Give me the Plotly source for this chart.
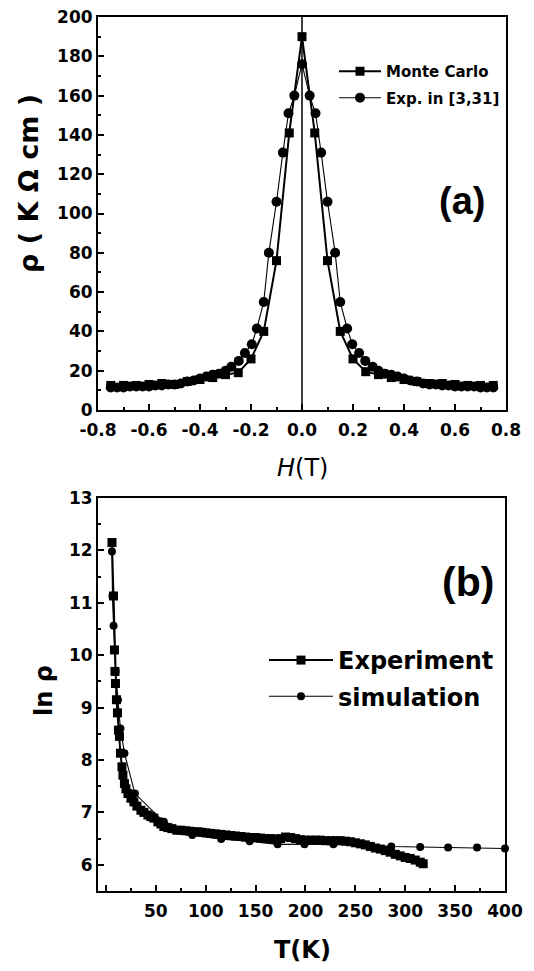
import plotly.graph_objects as go

# ---------------- Panel (a) data ----------------
mc_H = [-0.75, -0.70, -0.65, -0.60, -0.55, -0.50, -0.45, -0.40, -0.35, -0.30,
        -0.25, -0.20, -0.15, -0.10, -0.05, 0.0, 0.05, 0.10, 0.15, 0.20,
        0.25, 0.30, 0.35, 0.40, 0.45, 0.50, 0.55, 0.60, 0.65, 0.70, 0.75]
mc_rho = [12.5, 12.5, 12.5, 13, 13.5, 13, 14.5, 15.5, 16.5, 18,
          19, 26, 40, 76, 141, 190, 141, 76, 40, 26,
          19.5, 18, 16.5, 15.5, 14.5, 13.5, 13.5, 13, 12.5, 12.5, 12.5]

exp_H = [-0.75, -0.725, -0.70, -0.675, -0.65, -0.625, -0.60, -0.575, -0.55, -0.525,
         -0.50, -0.475, -0.45, -0.425, -0.40, -0.375, -0.35, -0.325, -0.30, -0.277,
         -0.248, -0.224, -0.197, -0.177, -0.15, -0.13, -0.10, -0.075, -0.053, -0.03,
         0.0,
         0.03, 0.053, 0.075, 0.10, 0.13, 0.15, 0.177, 0.197, 0.224, 0.248,
         0.277, 0.30, 0.325, 0.35, 0.375, 0.40, 0.425, 0.45, 0.475, 0.50,
         0.525, 0.55, 0.575, 0.60, 0.625, 0.65, 0.675, 0.70, 0.725, 0.75]
exp_rho = [11.5, 11.5, 11.5, 12, 12, 12, 12, 12.5, 12.5, 13,
           13, 13.5, 14.5, 15, 16, 17, 18, 18.5, 20, 22,
           25, 29, 33.5, 41.5, 55, 80, 106, 131, 151, 160,
           176,
           160, 151, 131, 106, 80, 55, 41.5, 33.5, 29, 25,
           22, 20, 18.5, 18, 17, 16, 15, 14.5, 13.5, 13,
           13, 12.5, 12.5, 12, 12, 12, 12, 11.5, 11.5, 11.5]

a_xticks = [-0.8, -0.6, -0.4, -0.2, 0.0, 0.2, 0.4, 0.6, 0.8]
a_xlabels = ["-0.8", "-0.6", "-0.4", "-0.2", "0.0", "0.2", "0.4", "0.6", "0.8"]
a_yticks = [0, 20, 40, 60, 80, 100, 120, 140, 160, 180, 200]

# ---------------- Panel (b) data ----------------
T_exp = [6, 7.5, 8.5, 9, 9.5, 10.5, 11.5, 12.5, 13.5, 14.5,
         16, 17, 18.5, 20, 22, 25, 28, 31, 35, 38,
         42, 45, 48, 52, 55, 58, 62, 66, 71, 75,
         80, 84, 88, 92, 96,
         100, 105, 110, 115, 120, 125, 130, 135, 140, 145,
         150, 155, 160, 165, 170, 175, 180, 185, 190, 195,
         200, 205, 210, 215, 220, 225, 230, 235, 240, 245,
         250, 255, 260, 265, 270, 275, 280, 285, 290, 295,
         300, 305, 310, 315, 318]
ln_exp = [12.15, 11.13, 10.10, 9.69, 9.46, 9.15, 8.90, 8.57, 8.45, 8.13,
          7.87, 7.71, 7.55, 7.45, 7.36, 7.27, 7.20, 7.12, 7.04, 7.00,
          6.95, 6.92, 6.89, 6.82, 6.78, 6.73, 6.71, 6.69, 6.66, 6.66,
          6.65, 6.64, 6.63, 6.63, 6.62,
          6.61, 6.60, 6.59, 6.58, 6.57, 6.56, 6.55, 6.54, 6.53, 6.52,
          6.52, 6.51, 6.50, 6.50, 6.49, 6.50, 6.53, 6.52, 6.50, 6.48,
          6.47, 6.47, 6.47, 6.47, 6.46, 6.46, 6.46, 6.46, 6.45, 6.44,
          6.42, 6.40, 6.38, 6.35, 6.32, 6.30, 6.27, 6.24, 6.20, 6.17,
          6.14, 6.12, 6.09, 6.05, 6.02]

T_sim = [6, 6.5, 7.6, 8.6, 9.6, 12, 14.5, 18.5, 29, 58, 86.5, 115.5, 144, 172, 199,
         228, 257, 286, 315, 343, 372, 400]
ln_sim = [11.98, 11.13, 10.56, 10.10, 9.69, 9.15, 8.60, 8.13, 7.36, 6.82, 6.57, 6.49,
          6.45, 6.39, 6.39, 6.39, 6.40, 6.35, 6.34, 6.33, 6.33, 6.31]

b_xticks = [0, 50, 100, 150, 200, 250, 300, 350, 400]
b_xlabels = ["", "50", "100", "150", "200", "250", "300", "350", "400"]
b_yticks = [6, 7, 8, 9, 10, 11, 12, 13]

W, H = 534, 971
TICKFONT = dict(family="DejaVu Sans", size=17, color="black", weight="bold")

fig = go.Figure()

fig.add_trace(go.Scatter(
    x=mc_H, y=mc_rho, mode="lines+markers", name="Monte Carlo",
    line=dict(color="black", width=2), marker=dict(symbol="square", size=9, color="black"),
    xaxis="x", yaxis="y", legend="legend", legendgroup="a1"))
fig.add_trace(go.Scatter(
    x=exp_H, y=exp_rho, mode="lines+markers", name="Exp. in [3,31]",
    line=dict(color="black", width=1.1), marker=dict(symbol="circle", size=10, color="black"),
    xaxis="x", yaxis="y", legend="legend", legendgroup="a2"))

fig.add_trace(go.Scatter(
    x=T_exp, y=ln_exp, mode="lines+markers", name="Experiment",
    line=dict(color="black", width=2), marker=dict(symbol="square", size=9, color="black"),
    xaxis="x2", yaxis="y2", legend="legend2", legendgroup="b1", cliponaxis=False))
fig.add_trace(go.Scatter(
    x=T_sim, y=ln_sim, mode="lines+markers", name="simulation",
    line=dict(color="black", width=1.1), marker=dict(symbol="circle", size=8, color="black"),
    xaxis="x2", yaxis="y2", legend="legend2", legendgroup="b2", cliponaxis=False))

axis_common = dict(
    showgrid=False, zeroline=False, showline=True, linecolor="black", linewidth=2,
    mirror=True, ticks="inside", ticklen=6, tickwidth=2, tickcolor="black",
    tickfont=TICKFONT, automargin=False,
)

fig.update_layout(
    width=W, height=H,
    margin=dict(l=0, r=0, t=0, b=0, pad=0, autoexpand=False),
    paper_bgcolor="white", plot_bgcolor="white",
    xaxis=dict(domain=[98 / W, 506 / W], range=[-0.8, 0.8], anchor="y",
               tickmode="array", tickvals=a_xticks, ticktext=a_xlabels,
               ticklabelstandoff=4,
               minor=dict(ticks="inside", ticklen=3, tickwidth=2, dtick=0.1, tick0=-0.8,
                          tickcolor="black"),
               **axis_common),
    yaxis=dict(domain=[1 - 410 / H, 1 - 17 / H], range=[0, 200], anchor="x",
               tickmode="array", tickvals=a_yticks,
               minor=dict(ticks="inside", ticklen=3, tickwidth=2, dtick=10, tick0=0,
                          tickcolor="black"),
               **axis_common),
    xaxis2=dict(domain=[98 / W, 505 / W], range=[-8, 400], anchor="y2",
                tickmode="array", tickvals=b_xticks, ticktext=b_xlabels,
                ticklabelstandoff=4,
                minor=dict(ticks="inside", ticklen=3, tickwidth=2, dtick=25, tick0=0,
                           tickcolor="black"),
                **axis_common),
    yaxis2=dict(domain=[1 - 891 / H, 1 - 498 / H], range=[5.5, 13], anchor="x2",
                tickmode="array", tickvals=b_yticks,
                minor=dict(ticks="inside", ticklen=3, tickwidth=2, dtick=0.5, tick0=5.5,
                           tickcolor="black"),
                **axis_common),
    legend=dict(x=334 / W, y=1 - 55 / H, xanchor="left", yanchor="top",
                bgcolor="rgba(0,0,0,0)", borderwidth=0, itemwidth=42,
                traceorder="grouped", tracegroupgap=4,
                font=dict(family="DejaVu Sans", size=15, color="black", weight="bold")),
    legend2=dict(x=264 / W, y=1 - 638 / H, xanchor="left", yanchor="top",
                 bgcolor="rgba(0,0,0,0)", borderwidth=0, itemwidth=64,
                 traceorder="grouped", tracegroupgap=2,
                 font=dict(family="DejaVu Sans", size=24, color="black", weight="bold")),
    shapes=[dict(type="line", xref="x", yref="y domain", x0=0, x1=0, y0=0, y1=1,
                 line=dict(color="black", width=1.5))],
    annotations=[
        dict(text="(a)", x=462 / W, y=1 - 201 / H, xref="paper", yref="paper",
             xanchor="center", yanchor="middle", showarrow=False,
             font=dict(family="Liberation Sans", size=38, color="black", weight="bold")),
        dict(text="(b)", x=468 / W, y=1 - 582 / H, xref="paper", yref="paper",
             xanchor="center", yanchor="middle", showarrow=False,
             font=dict(family="Liberation Sans", size=41, color="black", weight="bold")),
        dict(text="ρ ( K Ω cm )", x=28 / W, y=1 - 184 / H, xref="paper", yref="paper",
             xanchor="center", yanchor="middle", textangle=-90, showarrow=False,
             font=dict(family="DejaVu Sans", size=27, color="black", weight="bold")),
        dict(text="<i>H</i>(T)", x=302 / W, y=1 - 468 / H, xref="paper", yref="paper",
             xanchor="center", yanchor="middle", showarrow=False,
             font=dict(family="DejaVu Sans", size=24, color="black")),
        dict(text="ln ρ", x=44 / W, y=1 - 690 / H, xref="paper", yref="paper",
             xanchor="center", yanchor="middle", textangle=-90, showarrow=False,
             font=dict(family="DejaVu Sans", size=24, color="black", weight="bold")),
        dict(text="T(K)", x=302 / W, y=1 - 950 / H, xref="paper", yref="paper",
             xanchor="center", yanchor="middle", showarrow=False,
             font=dict(family="DejaVu Sans", size=24, color="black", weight="bold")),
    ],
)

fig.write_html("out.html")
